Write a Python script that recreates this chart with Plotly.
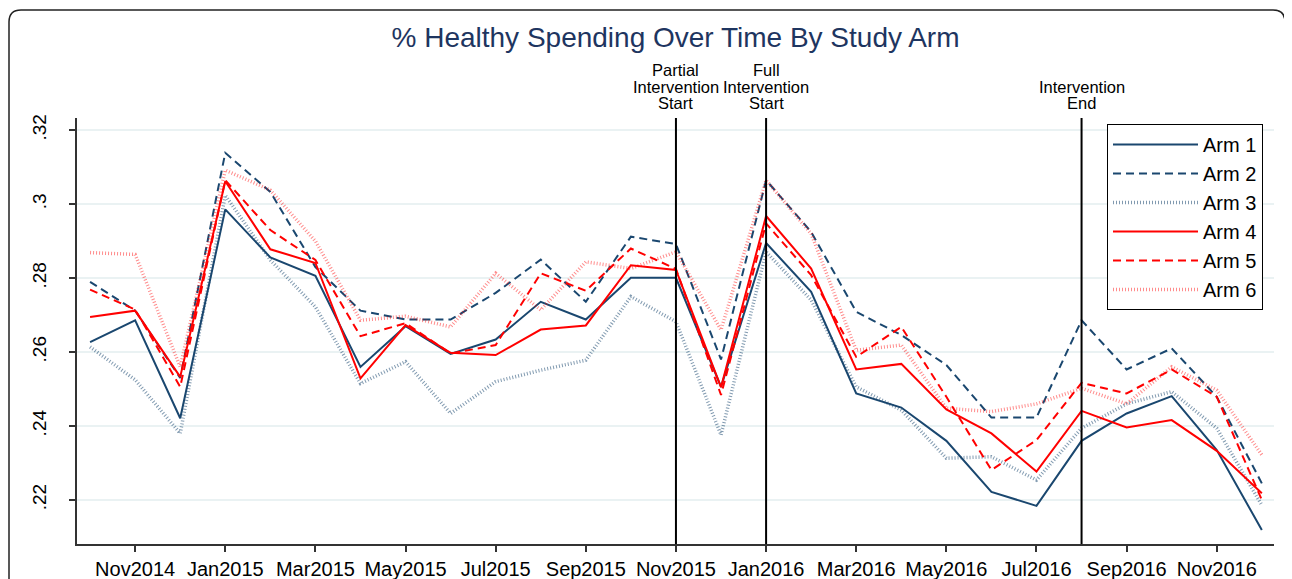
import plotly.graph_objects as go

months = ["Oct2014", "Nov2014", "Dec2014", "Jan2015", "Feb2015", "Mar2015", "Apr2015",
          "May2015", "Jun2015", "Jul2015", "Aug2015", "Sep2015", "Oct2015", "Nov2015",
          "Dec2015", "Jan2016", "Feb2016", "Mar2016", "Apr2016", "May2016", "Jun2016",
          "Jul2016", "Aug2016", "Sep2016", "Oct2016", "Nov2016", "Dec2016"]

arm1 = [.2627, .2686, .2421, .2986, .2856, .2806, .2560, .2670, .2595, .2634, .2736, .2688,
        .2801, .2801, .2506, .2895, .2763, .2488, .2450, .2360, .2222, .2184, .2360, .2434,
        .2481, .2335, .2119]
arm2 = [.2790, .2712, .2530, .3139, .3033, .2830, .2712, .2688, .2688, .2760, .2850, .2736,
        .2912, .2892, .2580, .3065, .2925, .2709, .2646, .2565, .2423, .2423, .2686, .2553,
        .2610, .2479, .2245]
arm3 = [.2614, .2525, .2380, .3024, .2849, .2722, .2515, .2574, .2434, .2520, .2551, .2578,
        .2750, .2682, .2376, .2871, .2741, .2506, .2443, .2313, .2317, .2254, .2394, .2460,
        .2493, .2394, .2186]
arm4 = [.2695, .2712, .2533, .3062, .2878, .2841, .2529, .2673, .2598, .2592, .2661, .2672,
        .2835, .2822, .2505, .2968, .2826, .2553, .2568, .2445, .2380, .2277, .2441, .2396,
        .2416, .2333, .2218]
arm5 = [.2769, .2715, .2506, .3065, .2930, .2849, .2643, .2678, .2596, .2619, .2813, .2766,
        .2880, .2825, .2484, .2948, .2808, .2587, .2668, .2479, .2281, .2362, .2517, .2488,
        .2553, .2479, .2200]
arm6 = [.2869, .2864, .2560, .3092, .3038, .2900, .2686, .2697, .2668, .2813, .2714, .2844,
        .2826, .2871, .2660, .3065, .2920, .2605, .2619, .2448, .2439, .2460, .2502, .2460,
        .2560, .2497, .2322]

arm_names = ["Arm 1", "Arm 2", "Arm 3", "Arm 4", "Arm 5", "Arm 6"]
arm_values = [arm1, arm2, arm3, arm4, arm5, arm6]

tick_labels = ["Nov2014", "Jan2015", "Mar2015", "May2015", "Jul2015", "Sep2015", "Nov2015",
               "Jan2016", "Mar2016", "May2016", "Jul2016", "Sep2016", "Nov2016"]
y_ticks = [0.22, 0.24, 0.26, 0.28, 0.30, 0.32]
y_ticktext = [".22", ".24", ".26", ".28", ".3", ".32"]

events = [("Nov2015", ["Partial", "Intervention", "Start"]),
          ("Jan2016", ["Full", "Intervention", "Start"]),
          ("Aug2016", ["Intervention", "End"])]

NAVY = "#1a476f"
RED = "#ff0000"
styles = [
    dict(color=NAVY, dash="solid", width=2),
    dict(color=NAVY, dash="8px,5px", width=2),
    dict(color="rgba(26,71,111,0.55)", dash="1px,2px", width=3.5),
    dict(color=RED, dash="solid", width=2),
    dict(color=RED, dash="8px,5px", width=2),
    dict(color="rgba(255,0,0,0.45)", dash="1px,2px", width=3.5),
]

FONT = "Liberation Sans, Arial, sans-serif"

# the page body adds an 8px offset; size the figure so it fills the window
OFF = 8
W, H = 1292 - OFF, 579 - OFF
# plot area in screen pixels
SX0, SX1, SY0, SY1 = 77, 1274, 118, 544
L, R, T, B = SX0 - OFF, (1292 - SX1), SY0 - OFF, (579 - SY1)
pw, ph = W - L - R, H - T - B


def px(x):
    return (x - SX0) / pw


def py(y):
    return (SY1 - y) / ph


fig = go.Figure()
for name, vals, st in zip(arm_names, arm_values, styles):
    fig.add_trace(go.Scatter(x=months, y=vals, mode="lines", name=name, line=st))

LINE_GAP = 16.5
for m, lines in events:
    xi = months.index(m)
    fig.add_shape(type="line", xref="x", yref="paper", x0=xi, x1=xi, y0=0, y1=1,
                  line=dict(color="black", width=2))
    n = len(lines)
    for k, txt in enumerate(lines):
        fig.add_annotation(x=xi, xref="x", y=1.0, yref="paper", yanchor="middle",
                           yshift=15 + (n - 1 - k) * LINE_GAP,
                           text=txt, showarrow=False,
                           font=dict(family=FONT, size=16.5, color="black"))

# outer rounded frame
x0, x1, y0, y1, r = 9, 1285, 10, 600, 12
path = (f"M{px(x0)},{py(y1)} L{px(x0)},{py(y0 + r)} "
        f"Q{px(x0)},{py(y0)} {px(x0 + r)},{py(y0)} "
        f"L{px(x1 - r)},{py(y0)} Q{px(x1)},{py(y0)} {px(x1)},{py(y0 + r)} "
        f"L{px(x1)},{py(y1)}")
fig.add_shape(type="path", xref="paper", yref="paper", path=path,
              line=dict(color="#222222", width=1.5), layer="below")

fig.update_layout(
    width=W, height=H,
    margin=dict(l=L, r=R, t=T, b=B, autoexpand=False),
    paper_bgcolor="white", plot_bgcolor="white",
    font=dict(family=FONT, color="black", size=17),
    title=dict(text="% Healthy Spending Over Time By Study Arm", x=0.5, xref="paper",
               xanchor="center", y=1 - (27 - OFF) / H, yanchor="top",
               font=dict(family=FONT, size=28, color="#1e3560")),
    showlegend=True,
    legend=dict(x=px(1107), y=py(124), xanchor="left", yanchor="top",
                bordercolor="black", borderwidth=1, bgcolor="white",
                font=dict(family=FONT, size=20, color="black"),
                itemwidth=85, tracegroupgap=0),
    xaxis=dict(type="category", categoryorder="array", categoryarray=months,
               range=[-0.29, len(months) - 1 + 0.27], automargin=False,
               tickmode="array", tickvals=tick_labels, ticktext=tick_labels,
               showgrid=False, showline=True, linecolor="#333333", linewidth=1.5,
               ticks="outside", ticklen=6, tickcolor="#333333", tickwidth=1.5,
               tickfont=dict(size=20), zeroline=False),
    yaxis=dict(range=[0.2081, 0.3233], tickmode="array", tickvals=y_ticks,
               ticktext=y_ticktext, tickangle=-90, automargin=False,
               showgrid=True, gridcolor="#eaf2f3", gridwidth=2,
               showline=True, linecolor="#333333", linewidth=1.5,
               ticks="outside", ticklen=6, tickcolor="#333333", tickwidth=1.5,
               ticklabelstandoff=16,
               tickfont=dict(size=19), zeroline=False),
)

fig.write_html("out.html")
